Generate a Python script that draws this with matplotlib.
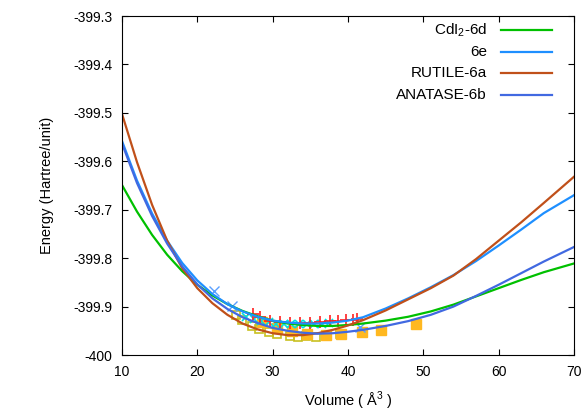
import matplotlib
matplotlib.use("Agg")
import matplotlib.pyplot as plt

plt.rcParams["font.family"] = ["Liberation Sans", "DejaVu Sans"]
plt.rcParams["mathtext.fontset"] = "custom"
plt.rcParams["mathtext.rm"] = "Liberation Sans"

# fitted curves
volume = [10, 12, 14, 16, 18, 20, 22, 24, 26, 28, 30, 32, 34, 36, 38,
          40, 42, 45, 48, 51, 54, 57, 60, 63, 66, 70]

energy_cdi2 = [-399.649, -399.704, -399.752, -399.793, -399.827, -399.855,
               -399.877, -399.895, -399.909, -399.920, -399.929, -399.935,
               -399.938, -399.940, -399.940, -399.938, -399.935, -399.929,
               -399.921, -399.910, -399.896, -399.879, -399.862, -399.845,
               -399.829, -399.811]
energy_6e = [-399.558, -399.640, -399.708, -399.764, -399.810, -399.846,
             -399.874, -399.895, -399.910, -399.921, -399.929, -399.933,
             -399.935, -399.935, -399.933, -399.929, -399.922, -399.904,
             -399.883, -399.860, -399.835, -399.806, -399.774, -399.741,
             -399.707, -399.670]
energy_rutile = [-399.502, -399.602, -399.690, -399.764, -399.821, -399.862,
                 -399.893, -399.917, -399.935, -399.947, -399.955, -399.959,
                 -399.959, -399.955, -399.948, -399.939, -399.928, -399.908,
                 -399.885, -399.862, -399.836, -399.802, -399.764, -399.726,
                 -399.686, -399.632]
energy_anatase = [-399.563, -399.645, -399.713, -399.770, -399.817, -399.854,
                  -399.883, -399.905, -399.922, -399.934, -399.944, -399.950,
                  -399.954, -399.956, -399.955, -399.952, -399.948, -399.940,
                  -399.930, -399.917, -399.900, -399.878, -399.855, -399.831,
                  -399.807, -399.777]

# calculated points
plus_v = [27.4, 28.3, 29.6, 31.0, 32.3, 33.6, 35.0, 36.3, 37.6, 38.7, 39.8, 40.7, 41.2]
plus_e = [-399.916, -399.921, -399.930, -399.932, -399.934, -399.934, -399.933,
          -399.932, -399.930, -399.930, -399.928, -399.927, -399.926]

cyan_v = [26.5, 27.5, 28.5, 29.5, 30.5, 31.5, 32.5, 33.5, 34.5, 35.5, 36.5, 37.5]
cyan_e = [-399.922, -399.926, -399.930, -399.932, -399.935, -399.936, -399.937,
          -399.937, -399.937, -399.936, -399.935, -399.934]

lblue_v = [22.25, 24.6, 41.6]
lblue_e = [-399.868, -399.899, -399.942]

open_v = [25.1, 26.0, 27.3, 28.2, 29.55, 30.6, 32.3, 33.4, 34.4, 35.8, 38.9]
open_e = [-399.918, -399.928, -399.940, -399.947, -399.952, -399.957, -399.960,
          -399.963, -399.960, -399.962, -399.957]

filled_v = [28.55, 30.54, 32.53, 34.52, 37.08, 39.07, 41.9, 44.38, 49.07]
filled_e = [-399.932, -399.944, -399.951, -399.956, -399.958, -399.957,
            -399.953, -399.948, -399.936]

series_labels = ["CdI$_2$-6d", "6e", "RUTILE-6a", "ANATASE-6b"]
series_colors = ["#00c000", "#1e8fff", "#c0501a", "#4169e1"]

x_ticks = [10, 20, 30, 40, 50, 60, 70]
y_ticks = [-400, -399.9, -399.8, -399.7, -399.6, -399.5, -399.4, -399.3]
y_tick_labels = ["-400", "-399.9", "-399.8", "-399.7", "-399.6", "-399.5",
                 "-399.4", "-399.3"]

fig = plt.figure(figsize=(5.85, 4.18), dpi=100)
ax = fig.add_axes([0.2085, 0.1507, 0.7726, 0.811])

ax.plot(open_v, open_e, "s", ms=6, mfc="none", mec="#c8c020", mew=1.2)
ax.plot(filled_v, filled_e, "s", ms=6.5, color="#ffb820")
ax.plot(cyan_v, cyan_e, "x", ms=6, color="#00e0e0", mew=1.2)
ax.plot(lblue_v, lblue_e, "x", ms=7, color="#5aa0ff", mew=1.0)
ax.plot(plus_v, plus_e, "+", ms=8, color="#ff2020", mew=1.2)

curves = [energy_cdi2, energy_6e, energy_rutile, energy_anatase]
for vals, col in zip(curves, series_colors):
    ax.plot(volume, vals, color=col, lw=1.6)

# key drawn gnuplot-style: text right aligned, sample line to the right
key_y = [0.9587, 0.8947, 0.8310, 0.767]
for lab, col, ky in zip(series_labels, series_colors, key_y):
    ax.text(0.8075, ky, lab, transform=ax.transAxes, ha="right", va="center",
            fontsize=11)
    ax.plot([0.8385, 0.951], [ky, ky], color=col, lw=1.6,
            transform=ax.transAxes)

ax.set_xlim(10, 70)
ax.set_ylim(-400, -399.3)
ax.set_xticks(x_ticks)
ax.set_yticks(y_ticks)
ax.set_yticklabels(y_tick_labels)
ax.tick_params(direction="in", top=True, right=True, length=4, width=0.8,
               labelsize=10, pad=7)
ax.set_xlabel("Volume ( Å$^{3}$ )", fontsize=10.5, labelpad=8)
ax.set_ylabel("Energy (Hartree/unit)", fontsize=10.5, labelpad=14)

fig.savefig("out.png", dpi=100)
